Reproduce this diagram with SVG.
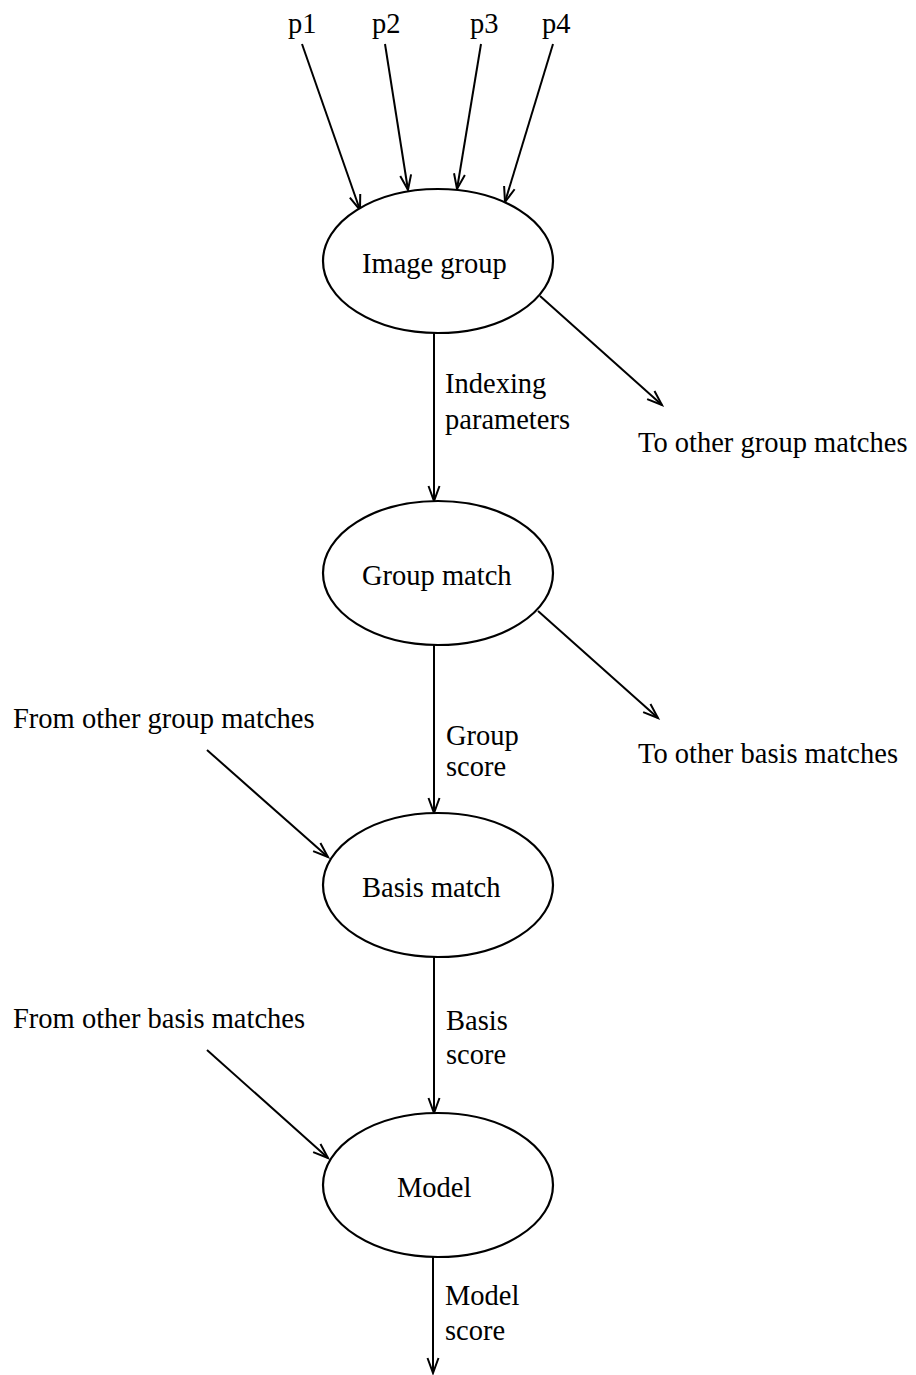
<svg xmlns="http://www.w3.org/2000/svg" width="916" height="1375" viewBox="0 0 916 1375">
<style>
text{font-family:"Liberation Serif","Times New Roman",serif;font-size:28.5px;fill:#000}
.node ellipse{fill:#fff;stroke:#000;stroke-width:2.2}
.edge{stroke:#000;stroke-width:2;fill:none;marker-end:url(#arr)}
</style>
<defs>
<marker id="arr" markerUnits="userSpaceOnUse" markerWidth="20" markerHeight="14" viewBox="-16 -7 18 14" refX="0" refY="0" orient="auto">
<path d="M-15,-5.5 L0,0 L-15,5.5" fill="none" stroke="#000" stroke-width="2"/>
</marker>
</defs>
<rect width="916" height="1375" fill="#fff"/>
<g id="connectors">
<path class="edge" d="M302,44 L360,210"/>
<path class="edge" d="M385,44 L408,190"/>
<path class="edge" d="M481,44 L457,189"/>
<path class="edge" d="M553,44 L505,202"/>
<path class="edge" d="M434,333 L434,501"/>
<path class="edge" d="M540,296 L662,405"/>
<path class="edge" d="M434,645 L434,813"/>
<path class="edge" d="M538,611 L658,718"/>
<path class="edge" d="M207,750 L328,857"/>
<path class="edge" d="M434,957 L434,1113"/>
<path class="edge" d="M207,1050 L328,1158"/>
<path class="edge" d="M433,1257 L433,1373"/>
</g>
<g id="labels">
<text x="288" y="33">p1</text>
<text x="372" y="33">p2</text>
<text x="470" y="33">p3</text>
<text x="542" y="33">p4</text>
<text x="445" y="393">Indexing</text>
<text x="445" y="429">parameters</text>
<text x="638" y="452">To other group matches</text>
<text x="446" y="745">Group</text>
<text x="446" y="776">score</text>
<text x="638" y="763">To other basis matches</text>
<text x="13" y="728">From other group matches</text>
<text x="446" y="1030">Basis</text>
<text x="446" y="1064">score</text>
<text x="13" y="1028">From other basis matches</text>
<text x="445" y="1305">Model</text>
<text x="445" y="1340">score</text>
</g>
<g id="image-group" class="node"><ellipse cx="438" cy="261" rx="115" ry="72"/><text x="362" y="273">Image group</text></g>
<g id="group-match" class="node"><ellipse cx="438" cy="573" rx="115" ry="72"/><text x="362" y="585">Group match</text></g>
<g id="basis-match" class="node"><ellipse cx="438" cy="885" rx="115" ry="72"/><text x="362" y="897">Basis match</text></g>
<g id="model" class="node"><ellipse cx="438" cy="1185" rx="115" ry="72"/><text x="397" y="1197">Model</text></g>
</svg>
